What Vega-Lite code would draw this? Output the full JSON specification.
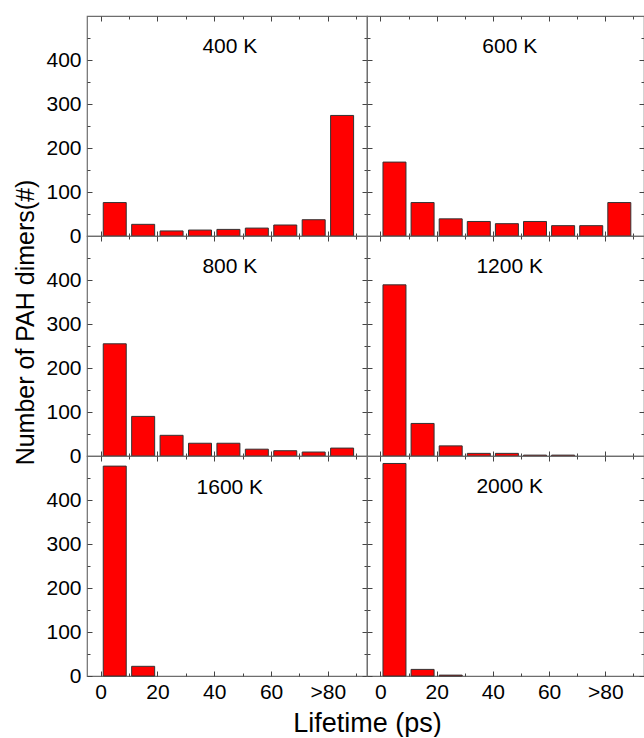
{
  "$schema": "https://vega.github.io/schema/vega-lite/v6.json",
  "padding": {"left": 12, "top": 14, "right": 0, "bottom": 0},
  "background": "white",
  "config": {
    "font": "Liberation Sans",
    "view": {"stroke": "#6e6e6e", "strokeWidth": 1.2},
    "axis": {"grid": false, "domain": false, "labelFont": "Liberation Sans", "labelFontSize": 21, "labelColor": "#000000", "titleFont": "Liberation Sans", "titleColor": "#000000", "titleFontWeight": "normal", "tickColor": "#444444", "tickWidth": 1, "labelOverlap": false, "labelFlush": false}
  },
  "data": {"values": [
    {"T": "400 K", "t": 5, "n": 76}, {"T": "400 K", "t": 15, "n": 26.5}, {"T": "400 K", "t": 25, "n": 11.5}, {"T": "400 K", "t": 35, "n": 13.5}, {"T": "400 K", "t": 45, "n": 15}, {"T": "400 K", "t": 55, "n": 18}, {"T": "400 K", "t": 65, "n": 25}, {"T": "400 K", "t": 75, "n": 37}, {"T": "400 K", "t": 85, "n": 274},
    {"T": "600 K", "t": 5, "n": 168}, {"T": "600 K", "t": 15, "n": 76}, {"T": "600 K", "t": 25, "n": 39}, {"T": "600 K", "t": 35, "n": 33}, {"T": "600 K", "t": 45, "n": 28}, {"T": "600 K", "t": 55, "n": 33}, {"T": "600 K", "t": 65, "n": 23.5}, {"T": "600 K", "t": 75, "n": 23.5}, {"T": "600 K", "t": 85, "n": 76},
    {"T": "800 K", "t": 5, "n": 255}, {"T": "800 K", "t": 15, "n": 90}, {"T": "800 K", "t": 25, "n": 47}, {"T": "800 K", "t": 35, "n": 29}, {"T": "800 K", "t": 45, "n": 29}, {"T": "800 K", "t": 55, "n": 15.5}, {"T": "800 K", "t": 65, "n": 12}, {"T": "800 K", "t": 75, "n": 9}, {"T": "800 K", "t": 85, "n": 18},
    {"T": "1200 K", "t": 5, "n": 389}, {"T": "1200 K", "t": 15, "n": 74}, {"T": "1200 K", "t": 25, "n": 23}, {"T": "1200 K", "t": 35, "n": 6}, {"T": "1200 K", "t": 45, "n": 6}, {"T": "1200 K", "t": 55, "n": 2}, {"T": "1200 K", "t": 65, "n": 2},
    {"T": "1600 K", "t": 5, "n": 477}, {"T": "1600 K", "t": 15, "n": 22},
    {"T": "2000 K", "t": 5, "n": 483}, {"T": "2000 K", "t": 15, "n": 15}, {"T": "2000 K", "t": 25, "n": 2}
  ]},
  "columns": 2,
  "spacing": 0,
  "bounds": "flush",
  "concat": [
    {
      "width": 280, "height": 220,
      "transform": [{"filter": "datum.T === '400 K'"}],
      "layer": [
        {"mark": {"type": "bar", "width": 23, "fill": "#ff0000", "stroke": "#333333", "strokeWidth": 1},
         "encoding": {
           "x": {"field": "t", "type": "quantitative", "scale": {"domain": [-3, 92], "nice": false, "zero": false}, "axis": {"orient": "bottom", "values": [0,10,20,30,40,50,60,70,80,90], "labels": false, "title": null, "tickSize": {"condition": {"test": "datum.value % 20 === 0", "value": -5}, "value": -3}}},
           "y": {"field": "n", "type": "quantitative", "scale": {"domain": [0, 500], "nice": false}, "axis": {"orient": "left", "values": [0,50,100,150,200,250,300,350,400,450], "labelExpr": "datum.value % 100 === 0 ? datum.label : ''", "labelPadding": 11, "title": null, "tickSize": {"condition": {"test": "datum.value % 100 === 0", "value": -5}, "value": -3}}}}},
        {"transform": [{"filter": "datum.t === 5"}],
         "mark": {"type": "text", "fontSize": 21, "align": "center", "baseline": "alphabetic", "color": "#000000"},
         "encoding": {"x": {"datum": 45.5, "type": "quantitative", "scale": {"domain": [-3, 92], "nice": false, "zero": false}, "axis": null}, "y": {"datum": 415, "type": "quantitative", "scale": {"domain": [0, 500], "nice": false}, "axis": null}, "text": {"field": "T"}}},
        {"mark": {"type": "point", "opacity": 0},
         "encoding": {
           "x": {"field": "t", "type": "quantitative", "scale": {"domain": [-3, 92], "nice": false, "zero": false}, "axis": {"orient": "top", "values": [0,10,20,30,40,50,60,70,80,90], "labels": false, "title": null, "tickSize": {"condition": {"test": "datum.value % 20 === 0", "value": -5}, "value": -3}}},
           "y": {"field": "n", "type": "quantitative", "scale": {"domain": [0, 500], "nice": false}, "axis": {"orient": "right", "values": [0,50,100,150,200,250,300,350,400,450], "labels": false, "title": null, "tickSize": {"condition": {"test": "datum.value % 100 === 0", "value": -5}, "value": -3}}}}}
      ],
      "resolve": {"axis": {"x": "independent", "y": "independent"}}
    },
    {
      "width": 277, "height": 220,
      "transform": [{"filter": "datum.T === '600 K'"}],
      "layer": [
        {"mark": {"type": "bar", "width": 23, "fill": "#ff0000", "stroke": "#333333", "strokeWidth": 1},
         "encoding": {
           "x": {"field": "t", "type": "quantitative", "scale": {"domain": [-3, 92], "nice": false, "zero": false}, "axis": {"orient": "bottom", "values": [0,10,20,30,40,50,60,70,80,90], "labels": false, "title": null, "tickSize": {"condition": {"test": "datum.value % 20 === 0", "value": -5}, "value": -3}}},
           "y": {"field": "n", "type": "quantitative", "scale": {"domain": [0, 500], "nice": false}, "axis": {"orient": "left", "values": [0,50,100,150,200,250,300,350,400,450], "labels": false, "title": null, "tickSize": {"condition": {"test": "datum.value % 100 === 0", "value": -5}, "value": -3}}}}},
        {"transform": [{"filter": "datum.t === 5"}],
         "mark": {"type": "text", "fontSize": 21, "align": "center", "baseline": "alphabetic", "color": "#000000"},
         "encoding": {"x": {"datum": 46, "type": "quantitative", "scale": {"domain": [-3, 92], "nice": false, "zero": false}, "axis": null}, "y": {"datum": 415, "type": "quantitative", "scale": {"domain": [0, 500], "nice": false}, "axis": null}, "text": {"field": "T"}}},
        {"mark": {"type": "point", "opacity": 0},
         "encoding": {
           "x": {"field": "t", "type": "quantitative", "scale": {"domain": [-3, 92], "nice": false, "zero": false}, "axis": {"orient": "top", "values": [0,10,20,30,40,50,60,70,80,90], "labels": false, "title": null, "tickSize": {"condition": {"test": "datum.value % 20 === 0", "value": -5}, "value": -3}}},
           "y": {"field": "n", "type": "quantitative", "scale": {"domain": [0, 500], "nice": false}, "axis": {"orient": "right", "values": [0,50,100,150,200,250,300,350,400,450], "labels": false, "title": null, "tickSize": {"condition": {"test": "datum.value % 100 === 0", "value": -5}, "value": -3}}}}}
      ],
      "resolve": {"axis": {"x": "independent", "y": "independent"}}
    },
    {
      "width": 280, "height": 220,
      "transform": [{"filter": "datum.T === '800 K'"}],
      "layer": [
        {"mark": {"type": "bar", "width": 23, "fill": "#ff0000", "stroke": "#333333", "strokeWidth": 1},
         "encoding": {
           "x": {"field": "t", "type": "quantitative", "scale": {"domain": [-3, 92], "nice": false, "zero": false}, "axis": {"orient": "bottom", "values": [0,10,20,30,40,50,60,70,80,90], "labels": false, "title": null, "tickSize": {"condition": {"test": "datum.value % 20 === 0", "value": -5}, "value": -3}}},
           "y": {"field": "n", "type": "quantitative", "scale": {"domain": [0, 500], "nice": false}, "axis": {"orient": "left", "values": [0,50,100,150,200,250,300,350,400,450], "labelExpr": "datum.value % 100 === 0 ? datum.label : ''", "labelPadding": 11, "title": "Number of PAH dimers(#)", "titleFontSize": 25, "titleX": -54, "titleY": 86, "titleBaseline": "alphabetic", "titleAngle": 270, "tickSize": {"condition": {"test": "datum.value % 100 === 0", "value": -5}, "value": -3}}}}},
        {"transform": [{"filter": "datum.t === 5"}],
         "mark": {"type": "text", "fontSize": 21, "align": "center", "baseline": "alphabetic", "color": "#000000"},
         "encoding": {"x": {"datum": 45.5, "type": "quantitative", "scale": {"domain": [-3, 92], "nice": false, "zero": false}, "axis": null}, "y": {"datum": 415, "type": "quantitative", "scale": {"domain": [0, 500], "nice": false}, "axis": null}, "text": {"field": "T"}}},
        {"mark": {"type": "point", "opacity": 0},
         "encoding": {
           "x": {"field": "t", "type": "quantitative", "scale": {"domain": [-3, 92], "nice": false, "zero": false}, "axis": {"orient": "top", "values": [0,10,20,30,40,50,60,70,80,90], "labels": false, "title": null, "tickSize": {"condition": {"test": "datum.value % 20 === 0", "value": -5}, "value": -3}}},
           "y": {"field": "n", "type": "quantitative", "scale": {"domain": [0, 500], "nice": false}, "axis": {"orient": "right", "values": [0,50,100,150,200,250,300,350,400,450], "labels": false, "title": null, "tickSize": {"condition": {"test": "datum.value % 100 === 0", "value": -5}, "value": -3}}}}}
      ],
      "resolve": {"axis": {"x": "independent", "y": "independent"}}
    },
    {
      "width": 277, "height": 220,
      "transform": [{"filter": "datum.T === '1200 K'"}],
      "layer": [
        {"mark": {"type": "bar", "width": 23, "fill": "#ff0000", "stroke": "#333333", "strokeWidth": 1},
         "encoding": {
           "x": {"field": "t", "type": "quantitative", "scale": {"domain": [-3, 92], "nice": false, "zero": false}, "axis": {"orient": "bottom", "values": [0,10,20,30,40,50,60,70,80,90], "labels": false, "title": null, "tickSize": {"condition": {"test": "datum.value % 20 === 0", "value": -5}, "value": -3}}},
           "y": {"field": "n", "type": "quantitative", "scale": {"domain": [0, 500], "nice": false}, "axis": {"orient": "left", "values": [0,50,100,150,200,250,300,350,400,450], "labels": false, "title": null, "tickSize": {"condition": {"test": "datum.value % 100 === 0", "value": -5}, "value": -3}}}}},
        {"transform": [{"filter": "datum.t === 5"}],
         "mark": {"type": "text", "fontSize": 21, "align": "center", "baseline": "alphabetic", "color": "#000000"},
         "encoding": {"x": {"datum": 46, "type": "quantitative", "scale": {"domain": [-3, 92], "nice": false, "zero": false}, "axis": null}, "y": {"datum": 415, "type": "quantitative", "scale": {"domain": [0, 500], "nice": false}, "axis": null}, "text": {"field": "T"}}},
        {"mark": {"type": "point", "opacity": 0},
         "encoding": {
           "x": {"field": "t", "type": "quantitative", "scale": {"domain": [-3, 92], "nice": false, "zero": false}, "axis": {"orient": "top", "values": [0,10,20,30,40,50,60,70,80,90], "labels": false, "title": null, "tickSize": {"condition": {"test": "datum.value % 20 === 0", "value": -5}, "value": -3}}},
           "y": {"field": "n", "type": "quantitative", "scale": {"domain": [0, 500], "nice": false}, "axis": {"orient": "right", "values": [0,50,100,150,200,250,300,350,400,450], "labels": false, "title": null, "tickSize": {"condition": {"test": "datum.value % 100 === 0", "value": -5}, "value": -3}}}}}
      ],
      "resolve": {"axis": {"x": "independent", "y": "independent"}}
    },
    {
      "width": 280, "height": 220,
      "transform": [{"filter": "datum.T === '1600 K'"}],
      "layer": [
        {"mark": {"type": "bar", "width": 23, "fill": "#ff0000", "stroke": "#333333", "strokeWidth": 1},
         "encoding": {
           "x": {"field": "t", "type": "quantitative", "scale": {"domain": [-3, 92], "nice": false, "zero": false}, "axis": {"orient": "bottom", "values": [0,10,20,30,40,50,60,70,80,90], "labelExpr": "datum.value === 80 ? '>80' : (datum.value % 20 === 0 ? datum.label : '')", "labelPadding": 10, "title": "Lifetime (ps)", "titleFontSize": 27, "titleX": 280, "titleY": 55, "titleBaseline": "alphabetic", "tickSize": {"condition": {"test": "datum.value % 20 === 0", "value": -5}, "value": -3}}},
           "y": {"field": "n", "type": "quantitative", "scale": {"domain": [0, 500], "nice": false}, "axis": {"orient": "left", "values": [0,50,100,150,200,250,300,350,400,450], "labelExpr": "datum.value % 100 === 0 ? datum.label : ''", "labelPadding": 11, "title": null, "tickSize": {"condition": {"test": "datum.value % 100 === 0", "value": -5}, "value": -3}}}}},
        {"transform": [{"filter": "datum.t === 5"}],
         "mark": {"type": "text", "fontSize": 21, "align": "center", "baseline": "alphabetic", "color": "#000000"},
         "encoding": {"x": {"datum": 45.5, "type": "quantitative", "scale": {"domain": [-3, 92], "nice": false, "zero": false}, "axis": null}, "y": {"datum": 413, "type": "quantitative", "scale": {"domain": [0, 500], "nice": false}, "axis": null}, "text": {"field": "T"}}},
        {"mark": {"type": "point", "opacity": 0},
         "encoding": {
           "x": {"field": "t", "type": "quantitative", "scale": {"domain": [-3, 92], "nice": false, "zero": false}, "axis": {"orient": "top", "values": [0,10,20,30,40,50,60,70,80,90], "labels": false, "title": null, "tickSize": {"condition": {"test": "datum.value % 20 === 0", "value": -5}, "value": -3}}},
           "y": {"field": "n", "type": "quantitative", "scale": {"domain": [0, 500], "nice": false}, "axis": {"orient": "right", "values": [0,50,100,150,200,250,300,350,400,450], "labels": false, "title": null, "tickSize": {"condition": {"test": "datum.value % 100 === 0", "value": -5}, "value": -3}}}}}
      ],
      "resolve": {"axis": {"x": "independent", "y": "independent"}}
    },
    {
      "width": 277, "height": 220,
      "transform": [{"filter": "datum.T === '2000 K'"}],
      "layer": [
        {"mark": {"type": "bar", "width": 23, "fill": "#ff0000", "stroke": "#333333", "strokeWidth": 1},
         "encoding": {
           "x": {"field": "t", "type": "quantitative", "scale": {"domain": [-3, 92], "nice": false, "zero": false}, "axis": {"orient": "bottom", "values": [0,10,20,30,40,50,60,70,80,90], "labelExpr": "datum.value === 80 ? '>80' : (datum.value % 20 === 0 ? datum.label : '')", "labelPadding": 10, "title": null, "tickSize": {"condition": {"test": "datum.value % 20 === 0", "value": -5}, "value": -3}}},
           "y": {"field": "n", "type": "quantitative", "scale": {"domain": [0, 500], "nice": false}, "axis": {"orient": "left", "values": [0,50,100,150,200,250,300,350,400,450], "labels": false, "title": null, "tickSize": {"condition": {"test": "datum.value % 100 === 0", "value": -5}, "value": -3}}}}},
        {"transform": [{"filter": "datum.t === 5"}],
         "mark": {"type": "text", "fontSize": 21, "align": "center", "baseline": "alphabetic", "color": "#000000"},
         "encoding": {"x": {"datum": 46, "type": "quantitative", "scale": {"domain": [-3, 92], "nice": false, "zero": false}, "axis": null}, "y": {"datum": 415, "type": "quantitative", "scale": {"domain": [0, 500], "nice": false}, "axis": null}, "text": {"field": "T"}}},
        {"mark": {"type": "point", "opacity": 0},
         "encoding": {
           "x": {"field": "t", "type": "quantitative", "scale": {"domain": [-3, 92], "nice": false, "zero": false}, "axis": {"orient": "top", "values": [0,10,20,30,40,50,60,70,80,90], "labels": false, "title": null, "tickSize": {"condition": {"test": "datum.value % 20 === 0", "value": -5}, "value": -3}}},
           "y": {"field": "n", "type": "quantitative", "scale": {"domain": [0, 500], "nice": false}, "axis": {"orient": "right", "values": [0,50,100,150,200,250,300,350,400,450], "labels": false, "title": null, "tickSize": {"condition": {"test": "datum.value % 100 === 0", "value": -5}, "value": -3}}}}}
      ],
      "resolve": {"axis": {"x": "independent", "y": "independent"}}
    }
  ]
}
